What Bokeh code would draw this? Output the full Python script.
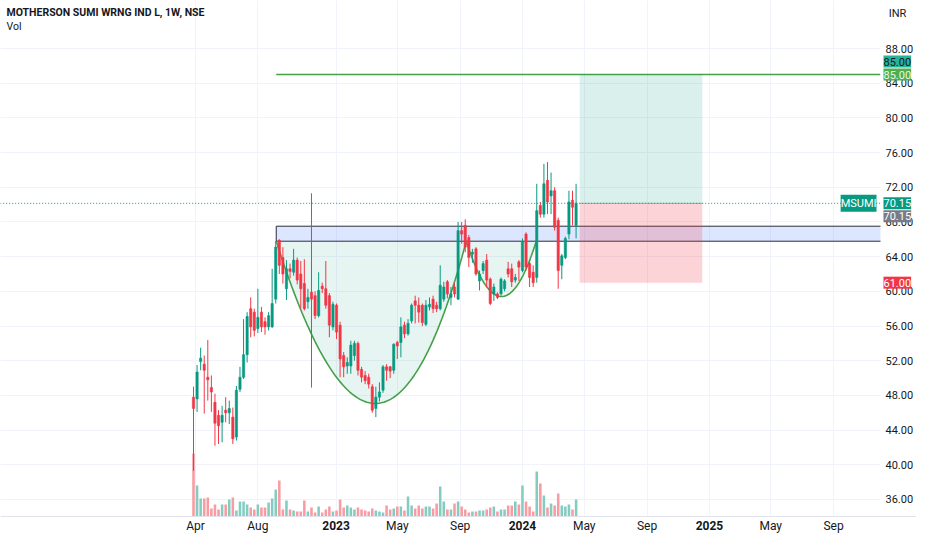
import numpy as np
import pandas as pd
from bokeh.plotting import figure
from bokeh.models import (Range1d, FixedTicker, NumeralTickFormatter, DatetimeTickFormatter,
                          Label, ColumnDataSource)
from bokeh.embed import file_html
from bokeh.resources import INLINE

# ---------------- data (weekly candles, MSUMI, NSE) ----------------
first_week = "2022-03-28"
opens = [47.8, 47.6, 51.9, 51.6, 50.1, 48.9, 47.2, 45.7, 44.9, 46.3,
         46.0, 45.5, 43.2, 48.7, 50.1, 52.7, 58.0, 57.6, 55.7, 57.6,
         56.5, 55.9, 55.9, 59.1, 65.9, 63.9, 60.3, 62.6, 62.2, 63.6,
         62.0, 60.9, 58.8, 59.9, 59.5, 57.2, 60.6, 60.3, 59.5, 55.9,
         58.4, 56.1, 52.6, 51.4, 51.4, 52.6, 54.0, 51.0, 50.3, 50.1,
         49.0, 46.5, 47.8, 48.6, 51.3, 51.3, 50.9, 54.1, 54.1, 56.1,
         55.1, 56.6, 58.9, 58.4, 58.4, 56.2, 58.2, 59.1, 58.4, 58.0,
         59.1, 61.1, 59.3, 60.5, 59.1, 67.0, 67.6, 66.2, 64.3, 64.9,
         61.2, 62.4, 63.6, 61.4, 59.7, 59.7, 59.7, 60.3, 62.6, 62.6,
         61.3, 63.4, 62.4, 66.6, 63.2, 62.2, 61.6, 69.9, 68.9, 72.8,
         71.0, 71.6, 68.2, 63.0, 63.9, 66.6, 70.5, 67.6]
highs = [49.0, 51.5, 53.5, 52.6, 54.4, 50.3, 48.2, 46.3, 46.8, 47.8,
         47.4, 46.6, 49.1, 51.3, 56.8, 57.6, 59.3, 58.0, 60.3, 58.2,
         57.0, 57.6, 62.6, 65.8, 66.0, 65.1, 63.6, 63.2, 64.9, 63.9,
         63.5, 63.7, 60.3, 71.3, 60.0, 62.2, 61.0, 63.5, 59.8, 58.8,
         58.6, 56.5, 53.0, 52.4, 54.3, 54.3, 54.2, 51.3, 50.8, 50.5,
         49.3, 49.0, 49.5, 51.5, 51.6, 51.4, 54.0, 54.3, 57.0, 56.5,
         56.8, 58.6, 59.5, 59.3, 58.6, 59.0, 59.3, 59.5, 58.8, 63.0,
         61.1, 61.3, 60.5, 61.0, 68.0, 68.0, 68.3, 66.5, 64.9, 65.1,
         62.4, 63.5, 64.3, 61.6, 60.9, 59.9, 61.6, 61.4, 63.4, 63.2,
         62.0, 63.6, 66.1, 66.8, 63.6, 63.0, 72.4, 70.3, 74.7, 74.9,
         73.7, 72.0, 68.5, 64.3, 66.3, 71.6, 71.6, 72.4]
lows = [39.3, 46.1, 50.9, 45.9, 47.4, 46.1, 42.2, 42.4, 42.6, 44.9,
        44.7, 42.4, 42.8, 48.4, 49.9, 51.8, 54.7, 54.8, 55.2, 55.3,
        55.0, 55.5, 55.8, 58.6, 62.0, 60.9, 59.0, 61.5, 61.8, 60.8,
        58.0, 57.8, 58.0, 48.9, 56.8, 57.0, 59.8, 58.0, 54.7, 55.5,
        54.5, 50.1, 50.1, 50.5, 50.5, 52.0, 50.3, 49.5, 49.3, 48.8,
        46.0, 45.5, 47.3, 48.3, 49.7, 50.0, 50.5, 52.2, 52.4, 54.6,
        54.9, 56.3, 56.3, 56.4, 56.0, 56.0, 57.8, 57.5, 57.6, 57.8,
        58.8, 59.2, 58.4, 59.3, 59.0, 65.5, 64.5, 62.8, 63.3, 61.8,
        60.1, 62.0, 60.5, 58.4, 58.9, 59.1, 59.5, 60.0, 61.6, 60.5,
        61.0, 61.2, 62.2, 62.4, 60.5, 60.5, 61.0, 68.5, 68.5, 68.9,
        68.9, 67.0, 60.3, 61.4, 63.7, 66.0, 67.6, 66.1]
closes = [46.5, 50.7, 52.3, 50.9, 49.8, 48.4, 44.8, 44.5, 45.7, 46.0,
          46.5, 43.0, 48.6, 50.1, 52.7, 57.1, 55.9, 55.5, 57.0, 55.9,
          55.9, 57.2, 58.6, 65.1, 63.0, 62.0, 62.6, 62.3, 63.6, 61.3,
          60.3, 58.0, 59.3, 59.1, 57.2, 60.1, 60.3, 58.4, 56.1, 58.5,
          55.3, 52.2, 51.3, 51.8, 53.8, 54.0, 50.9, 50.1, 49.7, 49.3,
          46.3, 47.8, 48.4, 51.3, 50.9, 50.8, 53.9, 53.7, 55.9, 55.1,
          56.3, 58.4, 58.4, 57.6, 56.4, 58.4, 58.5, 58.0, 58.0, 60.7,
          60.5, 59.7, 59.7, 59.7, 67.0, 66.6, 65.1, 63.9, 64.5, 62.0,
          62.0, 63.2, 61.3, 58.6, 60.5, 59.3, 61.4, 61.2, 62.0, 61.1,
          61.6, 62.8, 65.7, 62.8, 61.6, 61.0, 69.3, 68.9, 72.4, 70.3,
          71.6, 67.4, 62.4, 64.1, 66.1, 70.3, 69.7, 70.15]
volumes = [63, 31, 18, 18, 19, 8, 12, 7, 12, 12,
           17, 19, 6, 15, 15, 12, 9, 7, 12, 9,
           9, 14, 18, 27, 36, 7, 16, 7, 6, 5,
           5, 16, 5, 9, 4, 10, 4, 7, 10, 5,
           6, 17, 9, 11, 9, 7, 9, 7, 6, 5,
           8, 6, 5, 4, 11, 7, 8, 10, 10, 6,
           20, 11, 8, 11, 8, 10, 10, 8, 13, 30,
           15, 7, 7, 13, 15, 10, 7, 4, 5, 5,
           6, 6, 7, 9, 10, 5, 7, 7, 11, 11,
           15, 12, 31, 15, 10, 5, 45, 33, 21, 9,
           13, 11, 23, 11, 10, 12, 7, 17]

price_ticks = [36, 40, 44, 48, 52, 56, 60, 64, 68, 72, 76, 80, 84, 88]
month_ticks = ["2022-04-01", "2022-08-01", "2023-05-01", "2023-09-01",
               "2024-05-01", "2024-09-01", "2025-05-01", "2025-09-01"]
year_ticks = ["2023-01-01", "2024-01-01", "2025-01-01"]
year_labels = ["2023", "2024", "2025"]

# drawings on the chart
zone_start = "2022-09-06"
zone_bottom, zone_top = 65.78, 67.51
cup_dates = ["2022-09-06", "2023-03-19", "2023-09-13"]      # start, bottom, end
cup_prices = [65.78, 47.07, 65.78]
handle_dates = ["2023-09-13", "2023-11-21", "2024-01-28"]
handle_prices = [65.78, 59.4, 65.78]
target_line_start = "2022-09-06"
target_price = 85.0
entry_price = 70.15
stop_price = 61.0
position_start, position_end = "2024-04-22", "2024-12-18"
last_price = 70.15
symbol = "MSUMI"

# ---------------- layout constants ----------------
CANVAS_W, CANVAS_H = 916, 534
AXIS_X_PX = 880           # canvas x of the price-scale boundary
AXIS_Y_PX = 516           # canvas y of the time axis / volume baseline
PX_PER_DAY = 0.5108       # horizontal scale of the reference
FIRST_PX = 193.0          # x of the first candle
PX_PER_UNIT = 8.673       # vertical scale of the reference
Y88_PX = 48.0             # y of the 88.00 tick
FONT = "Roboto"
TXT = "#131722"
UP, DOWN = "#089981", "#f23645"
DAY_MS = 86400000.0


def ms(d):
    return pd.Timestamp(d).value / 1e6


t0 = pd.Timestamp(first_week)
x_start = t0 + pd.Timedelta(days=(0 - FIRST_PX) / PX_PER_DAY)
x_end = t0 + pd.Timedelta(days=(CANVAS_W - FIRST_PX) / PX_PER_DAY)
axis_x = ms(t0 + pd.Timedelta(days=(AXIS_X_PX - FIRST_PX) / PX_PER_DAY))
y_top = 88 + Y88_PX / PX_PER_UNIT
y_bot = 88 - (CANVAS_H - Y88_PX) / PX_PER_UNIT
axis_y = 88 - (AXIS_Y_PX - Y88_PX) / PX_PER_UNIT
far_right = ms(x_end) + 400 * DAY_MS
far_left = ms(x_start) - 400 * DAY_MS

dates = pd.date_range(first_week, periods=len(closes), freq="7D")
up = [c >= o for o, c in zip(opens, closes)]
src = ColumnDataSource(dict(
    date=dates, open=opens, high=highs, low=lows, close=closes,
    top=[max(o, c) for o, c in zip(opens, closes)],
    bottom=[min(o, c) for o, c in zip(opens, closes)],
    vol=volumes,
    color=[UP if u else DOWN for u in up],
    vcolor=["#84ccc0" if u else "#f89ba2" for u in up],
))

p = figure(x_axis_type="datetime", frame_width=CANVAS_W, frame_height=CANVAS_H,
           x_range=Range1d(x_start, x_end), y_range=Range1d(y_bot, y_top),
           y_axis_location="right", output_backend="svg", toolbar_location=None,
           min_border_left=0, min_border_right=0, min_border_top=0, min_border_bottom=0,
           background_fill_color="white", border_fill_color="white", outline_line_color=None)
p.extra_y_ranges = {"vol": Range1d(-(CANVAS_H - AXIS_Y_PX), AXIS_Y_PX)}

# axes (drawn at fixed positions inside the canvas, like the reference's scales)
ya = p.yaxis[0]
ya.fixed_location = axis_x
ya.ticker = FixedTicker(ticks=price_ticks)
ya.formatter = NumeralTickFormatter(format="0.00")
ya.axis_line_color = None
ya.major_tick_line_color = None
ya.major_tick_out = 0
ya.major_tick_in = 0
ya.minor_tick_line_color = None
ya.major_label_standoff = 5
ya.major_label_text_font = FONT
ya.major_label_text_font_size = "11px"
ya.major_label_text_color = TXT

xa = p.xaxis[0]
xa.fixed_location = axis_y
xa.ticker = FixedTicker(ticks=[ms(d) for d in month_ticks])
xa.formatter = DatetimeTickFormatter(months="%b", days="%b", years="%b")
xa.axis_line_color = "#e0e3eb"
xa.major_tick_line_color = None
xa.major_tick_out = 0
xa.major_tick_in = 0
xa.minor_tick_line_color = None
xa.major_label_standoff = 2
xa.major_label_text_font = FONT
xa.major_label_text_font_size = "12px"
xa.major_label_text_color = TXT

p.xgrid.ticker = FixedTicker(ticks=sorted([ms(d) for d in month_ticks + year_ticks]))
p.xgrid.grid_line_color = "#f0f3fa"
p.ygrid.ticker = FixedTicker(ticks=price_ticks)
p.ygrid.grid_line_color = "#f0f3fa"

# support / resistance zone
p.quad(left=[ms(zone_start)], right=[axis_x + 30 * DAY_MS], bottom=[zone_bottom], top=[zone_top],
       fill_color="#2962ff", fill_alpha=0.16, line_color="#2a2e39", line_width=1)


def bezier(dates_, prices_, n=80):
    xs = np.array([ms(d) for d in dates_])
    ys = np.array(prices_, dtype=float)
    cx = 2 * xs[1] - 0.5 * (xs[0] + xs[2])
    cy = 2 * ys[1] - 0.5 * (ys[0] + ys[2])
    t = np.linspace(0, 1, n)
    bx = (1 - t) ** 2 * xs[0] + 2 * (1 - t) * t * cx + t ** 2 * xs[2]
    by = (1 - t) ** 2 * ys[0] + 2 * (1 - t) * t * cy + t ** 2 * ys[2]
    return bx, by


cbx, cby = bezier(cup_dates, cup_prices)
hbx, hby = bezier(handle_dates, handle_prices)
p.patch(np.concatenate([cbx, hbx]), np.concatenate([cby, hby]),
        fill_color="#089981", fill_alpha=0.1, line_color=None)

# long position tool
p.quad(left=[ms(position_start)], right=[ms(position_end)], bottom=[entry_price],
       top=[target_price], fill_color="#089981", fill_alpha=0.15, line_color=None)
p.quad(left=[ms(position_start)], right=[ms(position_end)], bottom=[stop_price],
       top=[entry_price], fill_color="#f23645", fill_alpha=0.22, line_color=None)
p.segment(x0=[ms(position_start)], y0=[entry_price], x1=[ms(position_end)], y1=[entry_price],
          line_color="#8a9a95", line_width=1, line_alpha=0.7)

# target line
p.segment(x0=[ms(target_line_start)], y0=[target_price], x1=[axis_x], y1=[target_price],
          line_color="#43a047", line_width=1.5)

# volume
p.vbar(x="date", top="vol", bottom=0, width=5.0 * DAY_MS, fill_color="vcolor",
       line_color=None, y_range_name="vol", source=src)

# cup & handle curves
p.line(cbx, cby, line_color="#43a047", line_width=1.6)
p.line(hbx, hby, line_color="#43a047", line_width=1.6)

# candles
p.segment(x0="date", y0="low", x1="date", y1="high", line_color="color", line_width=1, source=src)
p.vbar(x="date", top="top", bottom="bottom", width=4.4 * DAY_MS, fill_color="color",
       line_color="color", line_width=0.6, source=src)

# last price dotted line
p.segment(x0=[far_left], y0=[last_price], x1=[axis_x], y1=[last_price],
          line_color=UP, line_dash="1 2", line_width=1)

# white scale areas (price scale at right, time scale at bottom)
p.quad(left=[axis_x], right=[far_right], bottom=[y_bot - 20], top=[y_top + 20],
       fill_color="white", line_color=None)
p.quad(left=[far_left], right=[far_right], bottom=[y_bot - 20], top=[axis_y],
       fill_color="white", line_color=None)

# texts
p.add_layout(Label(x=6, y=CANVAS_H - 12, x_units="screen", y_units="screen",
                   text="MOTHERSON SUMI WRNG IND L, 1W, NSE", text_font=FONT,
                   text_font_size="10.5px", text_font_style="bold", text_color=TXT,
                   text_baseline="middle"))
p.add_layout(Label(x=6, y=CANVAS_H - 26, x_units="screen", y_units="screen",
                   text="Vol", text_font=FONT, text_font_size="10.5px", text_color=TXT,
                   text_baseline="middle"))
p.add_layout(Label(x=AXIS_X_PX + 17, y=CANVAS_H - 13, x_units="screen", y_units="screen",
                   text="INR", text_font=FONT, text_font_size="11px", text_color=TXT,
                   text_baseline="middle", text_align="center"))

for d, t in zip(year_ticks, year_labels):
    p.add_layout(Label(x=ms(d), y=CANVAS_H - (AXIS_Y_PX + 9), x_units="data", y_units="screen",
                       text=t, text_font=FONT, text_font_size="12px", text_font_style="bold",
                       text_color=TXT, text_align="center", text_baseline="middle"))


def badge(text, price, bg, fg, shift_px=0.0, x=AXIS_X_PX + 3, align="left"):
    p.add_layout(Label(x=x, y=price + shift_px / PX_PER_UNIT, x_units="screen", y_units="data",
                       text=text, text_font=FONT, text_font_size="11px", text_color=fg,
                       background_fill_color=bg, text_align=align, text_baseline="middle",
                       padding=(0, 2)))


badge(f"{target_price:.2f}", target_price, "#4caf50", "#eaf7ea")
badge(f"{target_price:.2f}", target_price, "#26b39a", TXT, shift_px=13)
badge(f"{last_price:.2f}", last_price, "#787b86", "white", shift_px=-13)
badge(f"{last_price:.2f}", last_price, UP, "white")
badge(f"{stop_price:.2f}", stop_price, DOWN, "white")
badge(symbol, last_price, UP, "white", x=AXIS_X_PX - 4, align="right")

open("out.html", "w").write(file_html(p, INLINE))
